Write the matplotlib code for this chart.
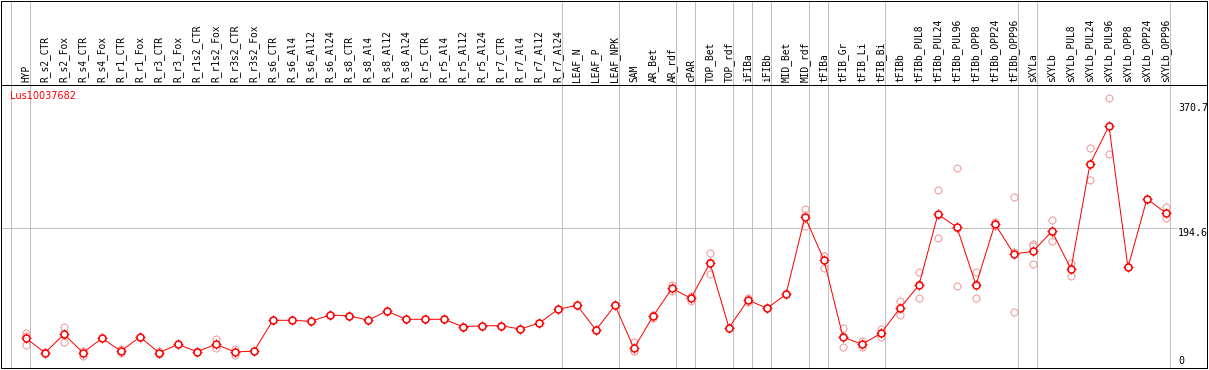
import numpy as np
import matplotlib
matplotlib.use("Agg")
import matplotlib.pyplot as plt

#
# Data
#
title = "Lus10037682"

samples = [
    "HYP", "R_s2_CTR", "R_s2_Fox", "R_s4_CTR", "R_s4_Fox", "R_r1_CTR", "R_r1_Fox",
    "R_r3_CTR", "R_r3_Fox", "R_r1s2_CTR", "R_r1s2_Fox", "R_r3s2_CTR", "R_r3s2_Fox",
    "R_s6_CTR", "R_s6_Al4", "R_s6_Al12", "R_s6_Al24", "R_s8_CTR", "R_s8_Al4",
    "R_s8_Al12", "R_s8_Al24", "R_r5_CTR", "R_r5_Al4", "R_r5_Al12", "R_r5_Al24",
    "R_r7_CTR", "R_r7_Al4", "R_r7_Al12", "R_r7_Al24", "LEAF_N", "LEAF_P", "LEAF_NPK",
    "SAM", "AR_Bet", "AR_rdf", "cPAR", "TOP_Bet", "TOP_rdf", "iFIBa", "iFIBb",
    "MID_Bet", "MID_rdf", "tFIBa", "tFIB_Gr", "tFIB_Li", "tFIB_Bi", "tFIBb",
    "tFIBb_PUL8", "tFIBb_PUL24", "tFIBb_PUL96", "tFIBb_OPP8", "tFIBb_OPP24",
    "tFIBb_OPP96", "sXYLa", "sXYLb", "sXYLb_PUL8", "sXYLb_PUL24", "sXYLb_PUL96",
    "sXYLb_OPP8", "sXYLb_OPP24", "sXYLb_OPP96",
]

means = [
    40.2, 20.1, 45.8, 20.1, 40.2, 22.4, 42.1, 20.1, 31.8, 21.5, 31.8, 21.0, 22.4,
    65.5, 65.5, 64.1, 72.9, 71.9, 65.5, 78.5, 66.9, 66.9, 66.9, 56.5, 57.9,
    57.9, 53.3, 61.3, 80.9, 86.5, 51.9, 86.5,
    26.2, 71.1, 110.3, 96.3, 145.8, 55.1, 93.9, 82.3,
    101.9, 210.7, 150.0, 42.1, 31.8, 47.3, 82.3,
    115.0, 214.1, 195.9, 115.0, 200.5, 158.4,
    162.2, 190.3, 137.4, 284.6, 337.9, 139.8, 235.6, 215.9,
]

replicates = [
    [47, 43, 31], [19, 20, 21], [56.5, 45.4, 35.5], [16, 21, 23], [40, 40, 41],
    [25, 20, 22], [42, 42, 42], [18, 20, 22], [32, 32, 32], [21, 21.5, 22],
    [39.7, 28.5, 27.2], [25, 17, 21], [22, 22.4, 23],
    [65.5, 65.5, 65.5], [65.5, 65.5, 65.5], [64.1, 64.1, 64.1], [72.9, 72.9, 72.9],
    [71.9, 71.9, 71.9], [65.5, 65.5, 65.5], [78.5, 78.5, 78.5], [66.9, 66.9, 66.9],
    [66.9, 66.9, 66.9], [66.9, 66.9, 66.9], [56.5, 56.5, 56.5], [57.9, 57.9, 57.9],
    [57.9, 57.9, 57.9], [53.3, 53.3, 53.3], [61.3, 61.3, 61.3], [80.9, 80.9, 80.9],
    [86.5, 86.5, 86.5], [51.9, 51.9, 51.9], [86.5, 86.5, 86.5],
    [34.6, 22, 22], [69, 71, 73], [115, 110, 106], [99.6, 96.3, 93],
    [160.3, 147, 130], [55.1, 55.1, 55.1], [96.3, 93.8, 91.6], [82.3, 82.3, 82.3],
    [101.9, 101.9, 101.9], [221.1, 212.9, 198.1], [156, 156, 138.4],
    [54.3, 43.5, 28.5], [36.5, 30.4, 28.5], [53.3, 46.1, 42.5], [92.5, 81.9, 72.5],
    [132.8, 115.9, 96.3], [248.2, 213.7, 180.4], [279.2, 195, 113.6],
    [132.8, 116, 96.3], [202.9, 200.5, 198.1], [237.9, 160.6, 76.7],
    [172.5, 170.1, 144.4], [206.1, 188.6, 176.2], [145.4, 138.8, 128],
    [306.6, 285, 262.2], [376.8, 338.2, 298.7], [139.8, 139.8, 139.8],
    [235.6, 235.6, 235.6], [223.9, 215.3, 208.5],
]

# group separators sit after these sample indices
separators_after = [-1, 0, 28, 31, 34, 35, 37, 38, 39, 41, 42, 45, 52, 53, 60]

axis_ticks = [370.7, 194.6, 0]

#
# Layout (pixel based, 1209x370)
#
W, H = 1209, 370
fig = plt.figure(figsize=(W / 100, H / 100), dpi=100)
ax = fig.add_axes([1 / W, 2 / H, 1206 / W, 283 / H])
ax_lab = fig.add_axes([1 / W, 285 / H, 1206 / W, 84.5 / H], sharex=ax)

x = np.arange(len(samples))
xlim = (-1.316, 62.16)
ax.set_xlim(*xlim)
ax.set_ylim(-1.4, 395.4)
ax_lab.set_ylim(0, 1)

lw = 0.72
grey = "#c0c0c0"
for a in (ax, ax_lab):
    for s in a.spines.values():
        s.set_color("black")
        s.set_linewidth(lw)
    a.set_xticks([])
    a.set_yticks([])
    for sep in separators_after:
        a.axvline(sep + 0.23, color=grey, lw=lw, zorder=0)

ax.hlines(axis_ticks[1], xlim[0], 60.6, color=grey, lw=lw, zorder=0)

# labels
for i, name in enumerate(samples):
    ax_lab.text(i, 0.03, name, rotation=90, ha="center", va="bottom",
                family="DejaVu Sans Mono", fontsize=6.9, color="black")

# replicate points
light = "#f09a9a"
for i, reps in enumerate(replicates):
    xs = np.full(len(reps), i)
    ax.plot(xs, reps, ls="none", marker="+", ms=6.3, mew=lw, color=light, zorder=2)
    ax.plot(xs, reps, ls="none", marker="o", ms=5.0, mew=lw, mec=light,
            mfc="white", zorder=2)

# mean line and points
red = "#ff0000"
ax.plot(x, means, color=red, lw=lw, zorder=3)
ax.plot(x, means, ls="none", marker="+", ms=6.6, mew=lw, color=red, zorder=4)
ax.plot(x, means, ls="none", marker="o", ms=5.0, mew=1.1, mec=red, mfc="white", zorder=5)

# right side value labels
ax.text(60.63, axis_ticks[0], "370.7", ha="left", va="top",
        family="DejaVu Sans Mono", fontsize=7.2)
ax.text(60.63, axis_ticks[1], "194.6", ha="left", va="top",
        family="DejaVu Sans Mono", fontsize=7.2)
ax.text(60.63, 1.5, "0", ha="left", va="bottom",
        family="DejaVu Sans Mono", fontsize=7.2)

ax.text(-0.85, 380, title, color=red, ha="left", va="center",
        family="DejaVu Sans", fontsize=7)

fig.savefig("out.png", dpi=100)
